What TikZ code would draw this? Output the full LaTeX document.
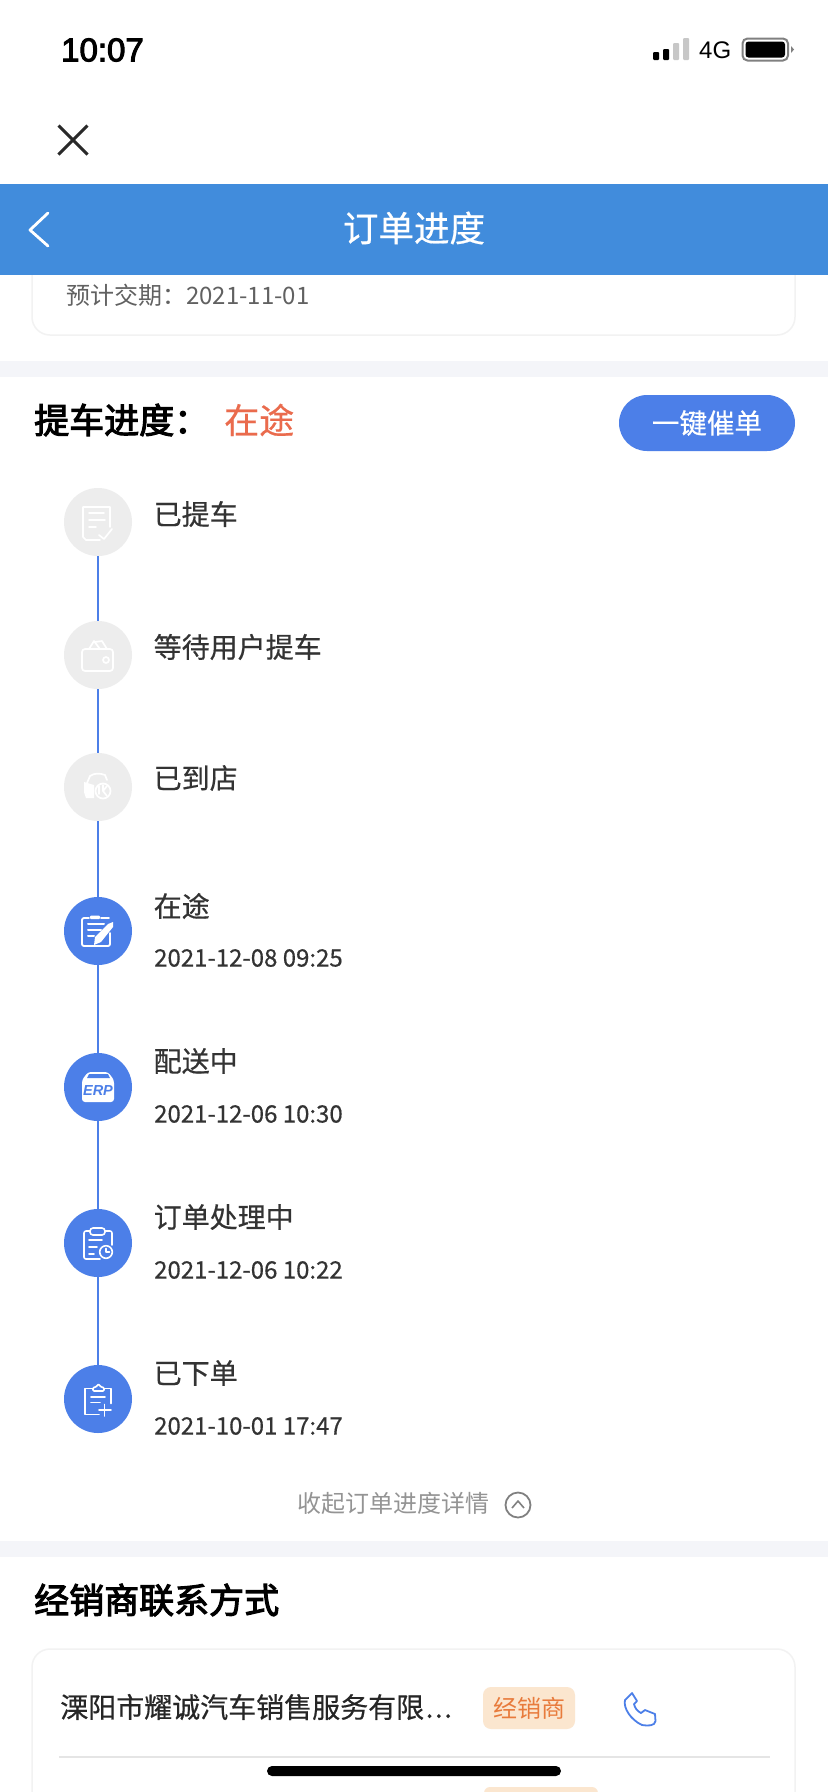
\documentclass[tikz,border=0pt]{standalone}
\usepackage{fontspec}
\setmainfont{Noto Sans CJK SC}
\newfontfamily\statusfont{Liberation Sans}
\newfontfamily\clockfont[FakeBold=3]{Liberation Sans}
\newfontfamily\midfont[FakeBold=0.5]{Noto Sans CJK SC}
\newfontfamily\headfont[FakeBold=3]{Noto Sans CJK SC}
\newcommand{\fs}[1]{\fontsize{#1}{#1}\selectfont}
\newcommand{\wcolon}{\char"FF1A\relax}
\definecolor{headblue}{HTML}{418CDC}
\definecolor{stepblue}{HTML}{4C7FE8}
\definecolor{stepgray}{HTML}{EDEDED}
\definecolor{bandgray}{HTML}{F4F5F9}
\definecolor{cardline}{HTML}{F2F2F2}
\definecolor{hotred}{HTML}{EA6B4D}
\definecolor{tagfill}{HTML}{FBE6CF}
\definecolor{tagtext}{HTML}{E87B3C}
\definecolor{inkdark}{HTML}{333333}
\tikzset{
  label/.style={anchor=west,inner sep=0pt,text=inkdark,font=\midfont\fs{28}},
  datelabel/.style={anchor=west,inner sep=0pt,text=inkdark,font=\midfont\fs{24}},
  headline/.style={anchor=west,inner sep=0pt,text=black,font=\headfont\fs{35}},
  stepdone/.style={circle,fill=stepblue,minimum size=68pt,inner sep=0pt},
  steptodo/.style={circle,fill=stepgray,minimum size=68pt,inner sep=0pt},
  stepline/.style={stepblue,line width=2pt},
  iconline/.style={white,line width=1.6pt,line cap=round,line join=round},
  fadeline/.style={white,line width=1.7pt,line cap=round,line join=round},
}
\begin{document}
\begin{tikzpicture}[x=1pt,y=-1pt]
    \useasboundingbox (0,0) rectangle (828,1792);
    \fill[white] (0,0) rectangle (828,1792);

    % ステータスバー
    \node[anchor=west,inner sep=0pt,font=\clockfont\fs{33}] (clock) at (61,50) {10:07};
    \fill[black,rounded corners=1pt] (653,52) rectangle (659,60);
    \fill[black,rounded corners=1pt] (663,49) rectangle (669,60);
    \fill[black!22,rounded corners=1pt] (673,43) rectangle (679,60);
    \fill[black!22,rounded corners=1pt] (683,38) rectangle (689,60);
    \node[anchor=west,inner sep=0pt,font=\midfont\statusfont\fs{24}] (net) at (699,50) {4G};
    \draw[black!50,line width=2pt,rounded corners=5pt] (742.5,38.5) rectangle (788,60.5);
    \fill[black,rounded corners=3pt] (745.5,41.5) rectangle (785,57.5);
    \fill[black!50] (791,46) -- (794,49.5) -- (791,53) -- cycle;

    % 閉じるボタン
    \draw[inkdark!80!black,line width=3pt] (58.5,125.5) -- (87.5,154.5);
    \draw[inkdark!80!black,line width=3pt] (87.5,125.5) -- (58.5,154.5);

    % 上のカード (ヘッダーの下に隠れる)
    \draw[cardline,line width=1.5pt,rounded corners=18pt] (32,250) rectangle (795,335);
    \node[anchor=west,inner sep=0pt,text=black!62,font=\fs{24}] (due) at (66,295) {预计交期\wcolon 2021-11-01};

    % ヘッダー
    \fill[headblue] (0,184) rectangle (828,275);
    \draw[white,line width=2.8pt,line cap=round,line join=round] (48,213) -- (30,230) -- (48,246);
    \node[inner sep=0pt,text=white,font=\midfont\fs{35.5}] (title) at (414,228) {订单进度};

    % 区切り帯
    \fill[bandgray] (0,361) rectangle (828,377);
    \fill[bandgray] (0,1541) rectangle (828,1557);

    % 提車進度の見出し
    \node[headline] (head) at (34,420) {提车进度\wcolon};
    \node[anchor=west,inner sep=0pt,text=hotred,font=\midfont\fs{35}] (state) at (224,420) {在途};
    \node[fill=stepblue,rounded corners=28pt,minimum width=176pt,minimum height=56pt,inner sep=0pt,
      text=white,font=\midfont\fs{27.5}] (urge) at (707,423) {一键催单};

    % 各ステップ (丸とラベル)
    \node[steptodo] (s1) at (98,522) {};
    \node[steptodo] (s2) at (98,655) {};
    \node[steptodo] (s3) at (98,787) {};
    \node[stepdone] (s4) at (98,931) {};
    \node[stepdone] (s5) at (98,1087) {};
    \node[stepdone] (s6) at (98,1243) {};
    \node[stepdone] (s7) at (98,1399) {};

    \node[label] (t1) at (153.5,514) {已提车};
    \node[label] (t2) at (153.5,647) {等待用户提车};
    \node[label] (t3) at (153.5,778) {已到店};
    \node[label] (t4) at (153.5,906) {在途};
    \node[label] (t5) at (153.5,1061) {配送中};
    \node[label] (t6) at (153.5,1217) {订单处理中};
    \node[label] (t7) at (153.5,1373) {已下单};
    \node[datelabel] (d4) at (154,958) {2021-12-08 09:25};
    \node[datelabel] (d5) at (154,1114) {2021-12-06 10:30};
    \node[datelabel] (d6) at (154,1270) {2021-12-06 10:22};
    \node[datelabel] (d7) at (154,1426) {2021-10-01 17:47};

    % 丸どうしをつなぐ線
    \foreach \a/\b in {s1/s2,s2/s3,s3/s4,s4/s5,s5/s6,s6/s7}
        \draw[stepline] (\a) -- (\b);

    % アイコン: 已提车
    \begin{scope}[shift={(s1)},fadeline]
        \draw (2,18) -- (-12,18) -- (-15,15) -- (-15,-15) -- (12,-15) -- (12,5);
        \draw (-9,-9) -- (6,-9) (-9,-2) -- (7,-2) (-9,5) -- (-2,5);
        \draw (1,13) -- (6,17) -- (14,7);
    \end{scope}
    % アイコン: 等待用户提车
    \begin{scope}[shift={(s2)},fadeline]
        \draw[rounded corners=3pt] (-16,-6) rectangle (15,16);
        \draw (-9,-6) -- (-4,-14) -- (2,-6);
        \draw (-3,-13) -- (4,-14) -- (9,-6);
        \draw (8,5) circle (3pt);
    \end{scope}
    % アイコン: 已到店
    \begin{scope}[shift={(s3)},fadeline]
        \draw (-11,-4) -- (-8,-11) .. controls (-4,-14) and (2,-14) .. (7,-12) -- (9,-7);
        \fill[white] (-14,-5) -- (-4,-2) -- (-4,11) -- (-12,11) -- (-14,5) -- cycle;
        \draw (5,4) circle (7.5pt);
        \draw (5,-2) -- (5,4) -- (9,9) (1,-1) -- (1,7) (9,-1) -- (5,4);
    \end{scope}
    % アイコン: 在途
    \begin{scope}[shift={(s4)},iconline]
        \draw[line width=1.8pt,rounded corners=2pt] (-9,-13) -- (-16,-13) -- (-16,15) -- (12,15) -- (12,2);
        \draw[line width=1.8pt] (3,-13) -- (11,-13);
        \fill[white,rounded corners=1pt] (-8,-15.5) rectangle (2,-12);
        \draw[line width=2pt] (-10,-7) -- (6,-7) (-10,-1) -- (3,-1) (-10,5) -- (-4,5);
        \fill[white] (-4,14) -- (-3,6) -- (10,-7) -- (15,-9) -- (15,-4) -- (3,11) -- cycle;
    \end{scope}
    % アイコン: 配送中
    \begin{scope}[shift={(s5)}]
        \fill[white,rounded corners=3pt] (-16,-7) -- (-10,-15) -- (10,-15) -- (16,-7) -- (16,15) -- (-16,15) -- cycle;
        \fill[stepblue] (-9,-13) -- (10,-13) -- (12,-9) -- (-11,-9) -- cycle;
        \node[inner sep=0pt,text=stepblue,font=\statusfont\bfseries\itshape\fs{14.5}] (erp) at (0,3) {ERP};
    \end{scope}
    % アイコン: 订单处理中
    \begin{scope}[shift={(s6)},iconline]
        \draw[rounded corners=2pt] (-8,-12) -- (-14,-12) -- (-14,16) -- (2,16);
        \draw[rounded corners=2pt] (7,-12) -- (14,-12) -- (14,2);
        \draw[rounded corners=3pt] (-8,-15) rectangle (7,-8);
        \draw (-9,-3) -- (4,-3) (-9,4) -- (-1,4) (-9,11) -- (-4,11);
        \draw (8,9) circle (6.3pt);
        \draw (8,5.5) -- (8,9) -- (11.5,9);
    \end{scope}
    % アイコン: 已下单
    \begin{scope}[shift={(s7)},iconline]
        \draw (-5,-10.5) -- (-13,-10.5) -- (-13,15.5) -- (1,15.5);
        \draw (6,-10.5) -- (13,-10.5) -- (13,4.5);
        \draw[rounded corners=1pt] (-5,-8) -- (-5,-11.5) -- (-2,-12) -- (0.5,-15) -- (3,-12) -- (6,-11.5) -- (6,-8) -- cycle;
        \draw (-7,-2) -- (7,-2) (-7,3.5) -- (2,3.5);
        \draw (1,11) -- (13,11) (6.5,5.5) -- (6.5,17);
    \end{scope}

    % 収起
    \node[anchor=west,inner sep=0pt,text=black!42,font=\fs{24}] (fold) at (297,1503) {收起订单进度详情};
    \node[circle,draw=black!50,line width=1.8pt,minimum size=25pt,inner sep=0pt] (foldicon) at (518,1505) {};
    \draw[black!50,line width=1.6pt,line join=round] (512,1508) -- (518,1501) -- (524,1508);

    % 経銷商
    \node[headline] (dealerhead) at (34,1600) {经销商联系方式};
    \draw[cardline,line width=1.5pt,rounded corners=18pt] (32,1830) -- (32,1649) -- (795,1649) -- (795,1830);
    \node[anchor=west,inner sep=0pt,text=black!85,font=\midfont\fs{28}] (dealer) at (60,1707) {溧阳市耀诚汽车销售服务有限\kern1.5pt.\kern1.5pt.\kern1.5pt.};
    \node[fill=tagfill,rounded corners=8pt,minimum width=92pt,minimum height=42pt,inner sep=0pt,
      text=tagtext,font=\fs{24}] (tag) at (529,1708) {经销商};
    \draw[stepblue,line width=1.8pt,line join=round]
        (625,1700) .. controls (623,1708) and (631,1720) .. (642,1725)
        .. controls (648,1726) and (655,1726) .. (655.5,1721) -- (655,1714) -- (645,1710) -- (641,1713)
        .. controls (637,1711) and (635,1708) .. (634,1704) -- (637,1701) -- (632,1693) -- cycle;
    \draw[black!10,line width=1.2pt] (59,1757) -- (770,1757);
    \fill[tagfill,rounded corners=6pt] (484,1787) rectangle (598,1800);

    % ホームバー
    \fill[black,rounded corners=5pt] (267,1766) rectangle (561,1776);
\end{tikzpicture}
\end{document}
